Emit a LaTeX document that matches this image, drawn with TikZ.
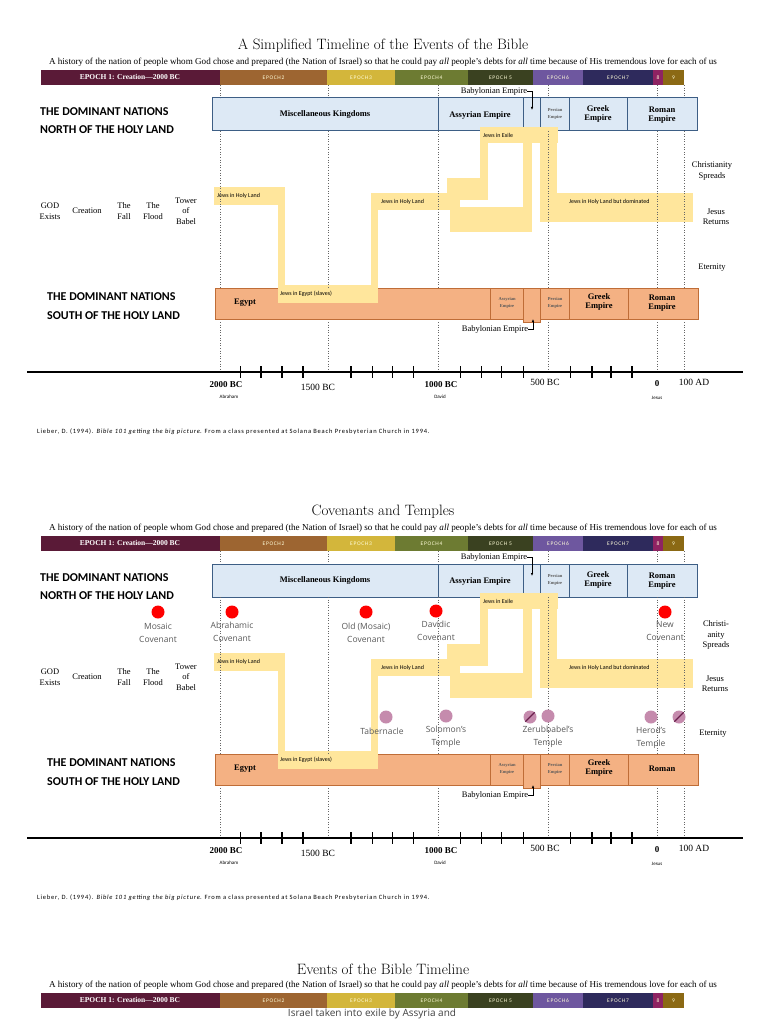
\documentclass[tikz,border=0pt]{standalone}
\usepackage{fontspec}
\usetikzlibrary{arrows.meta,positioning}
\newfontfamily\timesfont{Liberation Serif}
\newfontfamily\calibrifont{Carlito}
\newfontfamily\handfont{Open Sans}

% colours of the epochs
\definecolor{epochone}{HTML}{5A1A37}
\definecolor{epochtwo}{HTML}{9D6531}
\definecolor{epochthree}{HTML}{D3B63B}
\definecolor{epochfour}{HTML}{6D7B32}
\definecolor{epochfive}{HTML}{3A4120}
\definecolor{epochsix}{HTML}{6E579F}
\definecolor{epochseven}{HTML}{2E2A5C}
\definecolor{epocheight}{HTML}{8E2362}
\definecolor{epochnine}{HTML}{8B6914}
% colours of the boxes
\definecolor{jewsfill}{HTML}{FFE69C}
\definecolor{northfill}{HTML}{DDE9F5}
\definecolor{northline}{HTML}{3D5E85}
\definecolor{southfill}{HTML}{F4B183}
\definecolor{southline}{HTML}{BF6D37}
\definecolor{templefill}{HTML}{C58BAD}
\definecolor{templeline}{HTML}{6A1F4C}

\tikzset{
	headline/.style={font=\fontsize{15}{18}\selectfont, inner sep=0pt},
	subline/.style={font=\timesfont\fontsize{9.1}{10}\selectfont, inner sep=0pt},
	epochfirst/.style={font=\timesfont\bfseries\fontsize{7.5}{8}\selectfont, text=white, inner sep=0pt},
	epochtext/.style={font=\calibrifont\fontsize{5.5}{6}\selectfont\addfontfeature{LetterSpace=12}, text=white!85!yellow, inner sep=0pt},
	northbox/.style={draw=northline, fill=northfill, line width=1pt},
	southbox/.style={draw=southline, fill=southfill, line width=1pt},
	empire/.style={font=\timesfont\bfseries\fontsize{8.5}{9.5}\selectfont, align=center, inner sep=0pt},
	tinyempire/.style={font=\timesfont\bfseries\fontsize{4.5}{6.5}\selectfont, align=center, text=black!65, inner sep=0pt},
	nations/.style={font=\calibrifont\bfseries\fontsize{12}{13}\selectfont, anchor=west, inner sep=0pt},
	event/.style={font=\timesfont\fontsize{8.5}{10.5}\selectfont, align=center, inner sep=0pt},
	babtext/.style={font=\timesfont\fontsize{8.5}{10}\selectfont, inner sep=0pt},
	babarrow/.style={-{Latex[length=3pt,width=2.5pt]}, line width=0.7pt},
	jews/.style={fill=jewsfill, draw=none},
	jewstext/.style={font=\calibrifont\fontsize{6}{7}\selectfont, anchor=west, inner sep=0pt},
	era/.style={draw=black!60, dotted, line width=0.6pt},
	majortick/.style={line width=1.3pt},
	minortick/.style={line width=0.6pt},
	yearbold/.style={font=\timesfont\bfseries\fontsize{9}{10}\selectfont, inner sep=0pt},
	year/.style={font=\timesfont\fontsize{9.5}{10}\selectfont, inner sep=0pt},
	person/.style={font=\calibrifont\fontsize{5}{6}\selectfont, inner sep=0pt},
	cite/.style={font=\calibrifont\fontsize{6.5}{7}\selectfont\addfontfeature{LetterSpace=12}, anchor=west, inner sep=0pt},
	covenant/.style={circle, fill=red, minimum size=13pt, inner sep=0pt},
	templedot/.style={circle, fill=templefill, minimum size=13pt, inner sep=0pt},
	handtext/.style={font=\handfont\fontsize{8.5}{13}\selectfont, text=black!65, align=center, inner sep=0pt},
}

% title, subtitle and epoch bar
\newcommand{\pagehead}[2]{%
	\node[headline] (title#1) at (383,46) {#2};
	\node[subline] (sub#1) at (383,62) {A history of the nation of people whom  God chose and prepared (the Nation of Israel) so that he could pay \textit{all} people’s debts for \textit{all} time because of His tremendous love for each of us};
	% epochs
	\fill[epochone] (41,70) rectangle (220,85);
	\node[epochfirst] (epa#1) at (130,77) {EPOCH 1: Creation—2000 BC};
	\foreach \xa/\xb/\col/\txt [count=\i] in {220/327/epochtwo/EPOCH2, 327/395/epochthree/EPOCH3,
		395/468/epochfour/EPOCH4, 468/533/epochfive/EPOCH 5, 533/583/epochsix/EPOCH6,
		583/653/epochseven/EPOCH7, 653/663/epocheight/8, 663/684/epochnine/9}
	{
		\fill[\col] (\xa,70) rectangle (\xb,85);
		\node[epochtext] (ep\i#1) at ({(\xa+\xb)/2},78) {\txt};
	}
}

% nations, the path of the Jews and the time axis
\newcommand{\panelbody}[2]{%
	% north and south boxes
	\draw[northbox] (212,98) rectangle (697,131);
	\foreach \x in {438,523,540,569,627}
		\draw[northbox] (\x,98) -- (\x,131);
	\draw[southbox] (215,288) rectangle (698,319);
	\draw[southbox] (523,288) rectangle (540,322);
	\foreach \x in {490,569,628}
		\draw[southbox] (\x,288) -- (\x,319);
	% path of the Jews
	\fill[jews] (214,187) rectangle (285,205);
	\fill[jews] (278,187) rectangle (285,303);
	\fill[jews] (278,285) rectangle (378,303);
	\fill[jews] (371,193) rectangle (378,303);
	\fill[jews] (371,193) rectangle (460,210);
	\fill[jews] (447,178) rectangle (488,200);
	\fill[jews] (447,200) rectangle (460,210);
	\fill[jews] (450,207) rectangle (532,232);
	\fill[jews] (480,127) rectangle (488,200);
	\fill[jews] (480,127) rectangle (558,143);
	\fill[jews] (523,143) rectangle (532,232);
	\fill[jews] (540,143) rectangle (557,222);
	\fill[jews] (550,193) rectangle (693,222);
	% eras
	\foreach \x in {220,328,438,548,657,684} {
		\draw[era] (\x,85) -- (\x,98);
		\draw[era] (\x,131) -- (\x,288);
		\draw[era] (\x,322) -- (\x,371);
	}
	% empires
	\node[empire] (misc#1) at (325,114) {Miscellaneous Kingdoms};
	\node[empire] (assn#1) at (480,115) {Assyrian Empire};
	\node[tinyempire] (pern#1) at (555,114) {Persian\\Empire};
	\node[empire] (grkn#1) at (598,114) {Greek\\Empire};
	\node[empire] (romn#1) at (662,115) {Roman\\Empire};
	\node[empire] (egypt#1) at (245,303) {Egypt};
	\node[tinyempire] (asss#1) at (507,303) {Assyrian\\Empire};
	\node[tinyempire] (pers#1) at (555,303) {Persian\\Empire};
	\node[empire] (grks#1) at (599,302) {Greek\\Empire};
	\node[empire] (roms#1) at (662,303) {#2};
	\node[babtext] (babn#1) at (494,91) {Babylonian Empire};
	\coordinate (babnend#1) at (532,110);
	\draw[babarrow] (babn#1.east) -| (babnend#1);
	\node[babtext] (babs#1) at (495,329) {Babylonian Empire};
	\coordinate (babsend#1) at (533,319);
	\draw[babarrow] (babs#1.east) -| (babsend#1);
	% Jews
	\node[jewstext] (jhl#1) at (217,196) {Jews in Holy Land};
	\node[jewstext] (jeg#1) at (280,294) {Jews in Egypt (slaves)};
	\node[jewstext] (jhlb#1) at (381,202) {Jews in Holy Land};
	\node[jewstext] (jex#1) at (483,135) {Jews in Exile};
	\node[jewstext] (jdom#1) at (569,202) {Jews in Holy Land but dominated};
	% nations
	\node[nations] (nn#1) at (40,112) {THE DOMINANT NATIONS};
	\node[nations] (nnb#1) at (40,130) {NORTH OF THE HOLY LAND};
	\node[nations] (sn#1) at (47,297) {THE DOMINANT NATIONS};
	\node[nations] (snb#1) at (47,316) {SOUTH OF THE HOLY LAND};
	% first events
	\node[event] (god#1) at (50,211) {GOD\\Exists};
	\node[event] (creation#1) at (87,211) {Creation};
	\node[event] (fall#1) at (124,211) {The\\Fall};
	\node[event] (flood#1) at (153,211) {The\\Flood};
	\node[event] (babel#1) at (186,211) {Tower\\of\\Babel};
	% time axis
	\draw[line width=1.5pt] (27,372) -- (743,372);
	\foreach \x in {240,372,392,413,460,481,501,523,570}
		\draw[minortick] (\x,366) -- (\x,378);
	\foreach \x in {261,282,303,351,592,611,632}
		\draw[majortick] (\x,366) -- (\x,378);
	\node[yearbold] (yab#1) at (226,385) {2000 BC};
	\node[year] (ybb#1) at (318,387) {1500 BC};
	\node[yearbold] (ycb#1) at (441,385) {1000 BC};
	\node[year] (ydb#1) at (545,382) {500 BC};
	\node[yearbold] (yzero#1) at (657,384) {0};
	\node[year] (yad#1) at (694,382) {100 AD};
	\node[person] (abraham#1) at (229,397) {Abraham};
	\node[person] (david#1) at (440,397) {David};
	\node[person] (jesus#1) at (657,398) {Jesus};
	\node[cite] (cite#1) at (37,432) {Lieber, D. (1994). \textit{Bible 101 getting the big picture}. From a class presented at Solana Beach Presbyterian Church in 1994.};
}

\begin{document}
\begin{tikzpicture}[x=1pt,y=-1pt]
	\fill[white] (0,0) rectangle (768,1024);
	\useasboundingbox (0,0) rectangle (768,1024);

	% first page: the simplified timeline
	\pagehead{a}{A Simplified Timeline of the Events of the Bible}
	\panelbody{a}{Roman\\Empire}
	\node[event] (spreada) at (712,171) {Christianity\\Spreads};
	\node[event] (returnsa) at (716,217) {Jesus\\Returns};
	\node[event] (eternitya) at (712,268) {Eternity};

	% second page: covenants and temples
	\begin{scope}[yshift=-466pt]
		\pagehead{b}{Covenants and Temples}
		\panelbody{b}{Roman}
	\end{scope}
	\node[event] (spreadb) at (716,635) {Christi-\\anity\\Spreads};
	\node[event] (returnsb) at (715,684) {Jesus\\Returns};
	\node[event] (eternityb) at (713,734) {Eternity};

	% covenants
	\node[covenant] (mosaic) at (158,612) {};
	\node[handtext, below=4pt of mosaic] (mosaictext) {Mosaic\\Covenant};
	\node[covenant] (abraham) at (232,612) {};
	\node[handtext, below=3pt of abraham] (abrahamtext) {Abrahamic\\Covenant};
	\node[covenant] (oldmosaic) at (366,612) {};
	\node[handtext, below=4pt of oldmosaic] (oldmosaictext) {Old (Mosaic)\\Covenant};
	\node[covenant] (davidic) at (436,611) {};
	\node[handtext, below=3pt of davidic] (davidictext) {Davidic\\Covenant};
	\node[covenant] (newcov) at (665,612) {};
	\node[handtext, below=3pt of newcov] (newcovtext) {New\\Covenant};

	% temples
	\node[templedot] (tabernacle) at (386,717) {};
	\node[handtext] (tabernacletext) at (382,731) {Tabernacle};
	\node[templedot] (solomon) at (446,716) {};
	\node[handtext, below=3pt of solomon] (solomontext) {Solomon’s\\Temple};
	\node[templedot] (zerubgone) at (530,717) {};
	\node[templedot] (zerub) at (548,716) {};
	\node[handtext, below=3pt of zerub] (zerubtext) {Zerubbabel’s\\Temple};
	\node[templedot] (herod) at (651,717) {};
	\node[templedot] (herodgone) at (679,717) {};
	\node[handtext, below=3pt of herod] (herodtext) {Herod’s\\Temple};
	\draw[templeline, line width=1.3pt] (zerubgone.south west) -- (zerubgone.north east);
	\draw[templeline, line width=1.3pt] (herodgone.south west) -- (herodgone.north east);

	% third page: events of the bible
	\begin{scope}[yshift=-923pt]
		\pagehead{c}{Events of the Bible Timeline}
	\end{scope}
	\node[handtext, font=\handfont\fontsize{10}{12}\selectfont, text=black!75] (exiletext) at (372,1014) {Israel taken into exile by Assyria and};
\end{tikzpicture}
\end{document}
